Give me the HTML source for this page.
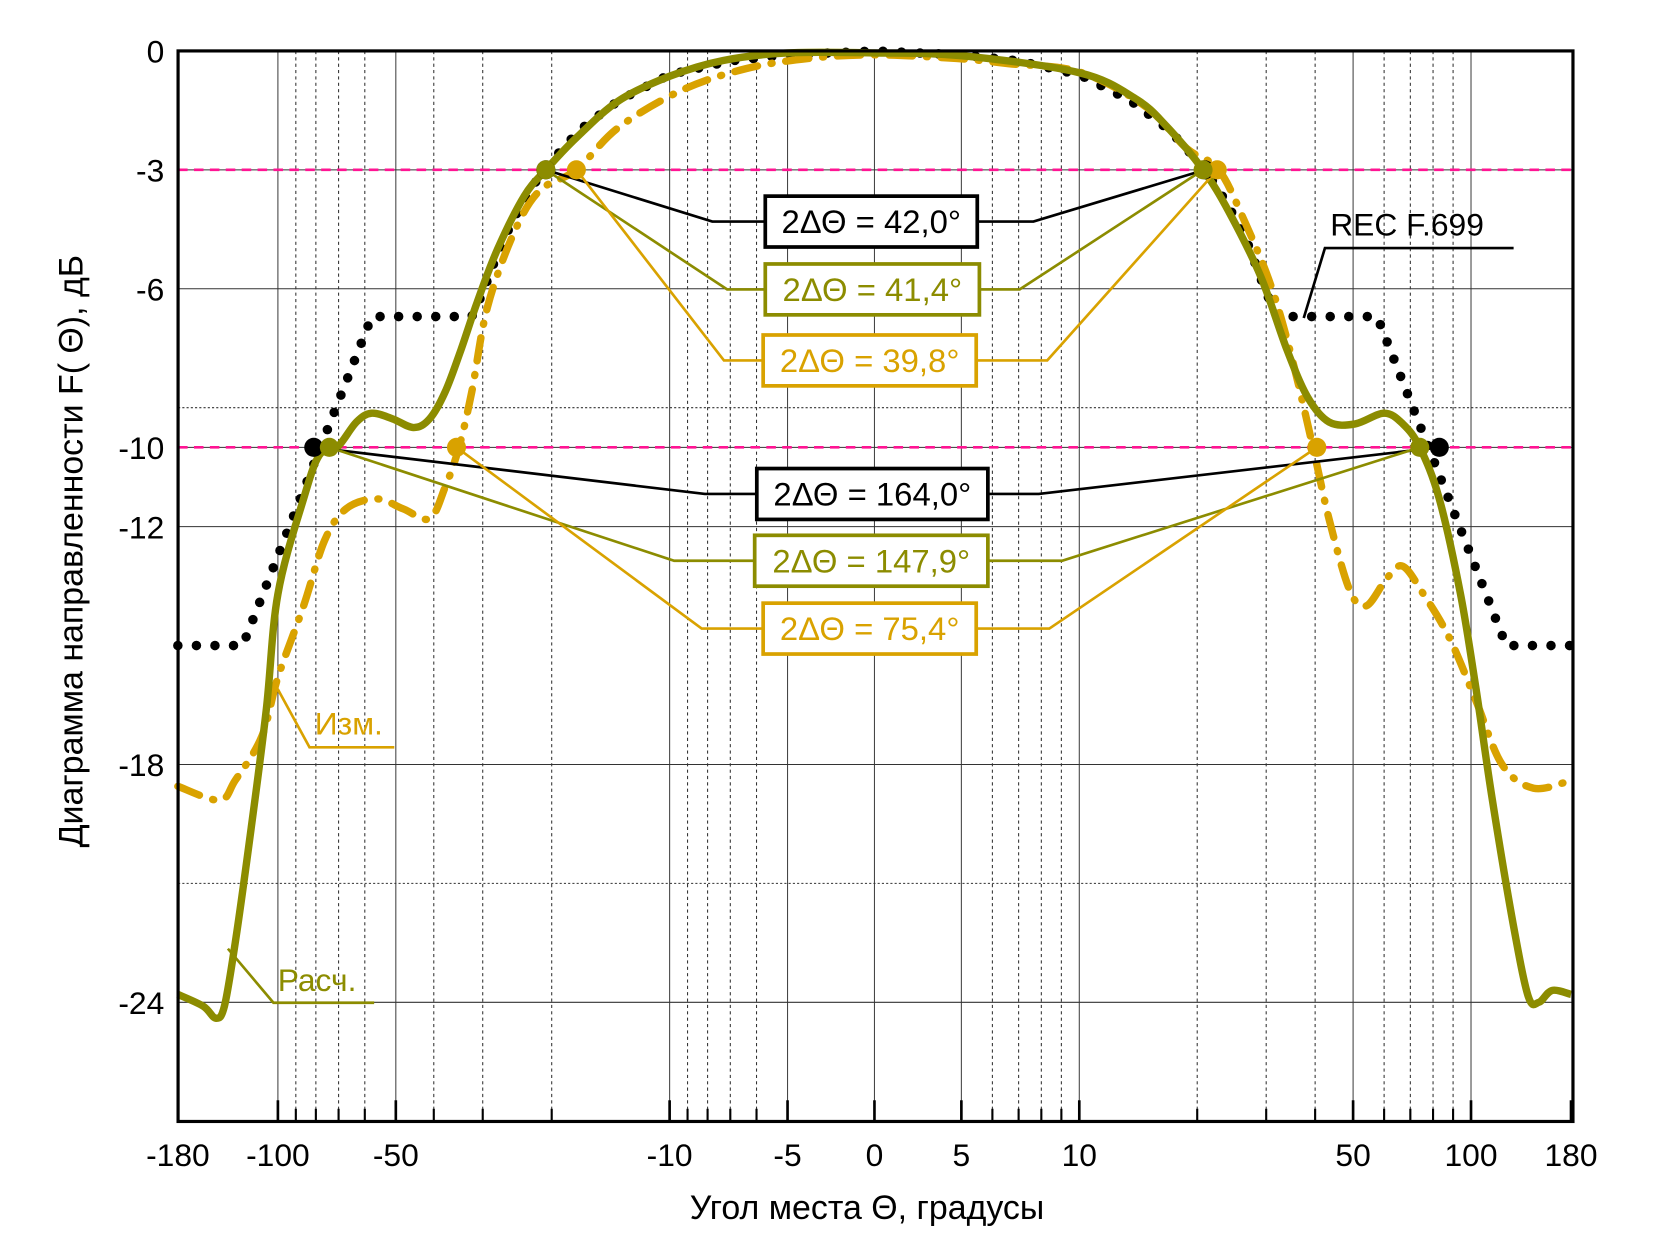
<!DOCTYPE html>
<html><head><meta charset="utf-8"><style>
html,body{margin:0;padding:0;background:#fff;}
svg{display:block;}
text{font-family:"Liberation Sans",sans-serif;}
</style></head><body>
<svg id="chart" width="1662" height="1245" viewBox="0 0 1568 1174.5" xmlns="http://www.w3.org/2000/svg">
<g id="grid"></g>
<g id="series"></g>
<g id="annot"></g>
<g id="axes"></g>
</svg>
<script>
// ---- data ----
const xTickLabels = [-180,-100,-50,-10,-5,0,5,10,50,100,180];
const xMinorTicks = [-90,-80,-70,-60,-40,-30,-20,-9,-8,-7,-6,6,7,8,9,20,30,40,60,70,80,90];
const yTickLabels = [0,-3,-6,-10,-12,-18,-24];
const yDottedGrid = [-9,-21];
const levelLines = [-3,-10];

const recTheta = [-180,-123,-57.6,-32,-30,-27,-24,-21,-17,-13.5,-10,-7,-5,0,5,7,10,13.5,17,21,24,27,30,32,57.6,123,180];
const recDb    = [-15,-15,-6.7,-6.7,-6.1,-4.9,-3.9,-3.0,-2.0,-1.25,-0.6,-0.25,-0.1,0,-0.1,-0.25,-0.6,-1.25,-2.0,-3.0,-3.9,-4.9,-6.1,-6.7,-6.7,-15,-15];

const calcTheta = [-180,-155,-144,-137,-128.5,-117,-107,-100,-86,-78.4,-70.6,-63,-57.6,-51,-45,-41,-37.4,-34.1,-31,-27.5,-23.5,-20.7,-17.3,-13.5,-10,-7.3,-5,0,5,10,13.9,16.7,20.7,24.1,29,33.9,38.3,43.4,50.6,60,67,74,83,94,103,113,128,140,149,161,180];
const calcDb    = [-23.8,-24.1,-24.4,-24.1,-22.5,-19.6,-16.6,-13.7,-11.3,-10.2,-10.0,-9.36,-9.14,-9.28,-9.5,-9.28,-8.6,-7.54,-6.34,-5.0,-3.66,-3.0,-2.19,-1.26,-0.64,-0.24,-0.05,-0.05,-0.12,-0.55,-1.2,-1.9,-3.0,-4.06,-5.67,-7.54,-8.74,-9.36,-9.41,-9.14,-9.41,-10.0,-11.3,-13.7,-16.1,-18.8,-22.0,-23.85,-24.0,-23.7,-23.8];

const measTheta = [-180,-141,-128.5,-110,-100,-86,-76,-67,-56,-47.9,-41,-37.4,-34.5,-32,-29.2,-25,-21.5,-17.3,-13.5,-9.3,-6.4,-3.8,0,4.7,6.6,10,14.7,18.8,22.7,26.5,30.9,35,39.5,43.4,49,54,61,67,75.6,88,103,120,144.5,180];
const measDb    = [-18.55,-18.9,-18.4,-17.3,-15.8,-14.0,-12.35,-11.55,-11.3,-11.55,-11.8,-11.0,-10.0,-8.6,-6.47,-4.6,-3.53,-3.0,-1.93,-0.99,-0.45,-0.19,-0.1,-0.19,-0.32,-0.53,-1.39,-2.46,-3.0,-4.33,-5.94,-7.8,-10.0,-11.8,-13.6,-14.0,-13.3,-13.0,-13.7,-14.8,-16.4,-18.0,-18.6,-18.4];

const recMarkTheta  = [-20.7,20.9,-81,83];
const recMarkDb     = [-3,-3,-10,-10];
const calcMarkTheta = [-20.7,20.7,-73.9,74];
const calcMarkDb    = [-3,-3,-10,-10];
const measMarkTheta = [-17.3,22.5,-35,40.4];
const measMarkDb    = [-3,-3,-10,-10];

const beamLabels = ["2ΔΘ = 42,0°","2ΔΘ = 41,4°","2ΔΘ = 39,8°","2ΔΘ = 164,0°","2ΔΘ = 147,9°","2ΔΘ = 75,4°"];

// ---- axes ----
const X0=168, X1=1484, Y0=48, Y1=1058;
function xs(t){const a=Math.abs(t);const s=t<0?-1:1;const d=a<=5?a/5*82:82+160.5*Math.log(a/5);return 825+s*d;}
function ys(db){return Y0-db*37.4;}
const NS="http://www.w3.org/2000/svg";
function mk(tag,parent,attrs){const e=document.createElementNS(NS,tag);for(const k in attrs)e.setAttribute(k,attrs[k]);parent.appendChild(e);return e;}
const grid=document.getElementById('grid'), series=document.getElementById('series'), annot=document.getElementById('annot'), axes=document.getElementById('axes');

xTickLabels.forEach(t=>{
  if(t===-180||t===180) return;
  const l=mk('line',grid,{x1:xs(t),x2:xs(t),y1:Y0,y2:Y1,stroke:'#444','stroke-width':1});
  
  
});
xMinorTicks.forEach(t=>{
  const l=mk('line',grid,{x1:xs(t),x2:xs(t),y1:Y0,y2:Y1,stroke:'#333','stroke-width':1,'stroke-dasharray':'3 3'});
  
  
  const k=mk('line',axes,{x1:xs(t),x2:xs(t),y1:Y1-12,y2:Y1,stroke:'#000','stroke-width':2});
  
  
});
yTickLabels.forEach(v=>{
  if(v===0) return;
  const l=mk('line',grid,{x1:X0,x2:X1,y1:ys(v),y2:ys(v),stroke:'#333','stroke-width':1});
  
  
});
yDottedGrid.forEach(v=>{
  const l=mk('line',grid,{x1:X0,x2:X1,y1:ys(v),y2:ys(v),stroke:'#333','stroke-width':1,'stroke-dasharray':'2 2'});
  
  
});
levelLines.forEach(v=>{
  const l=mk('line',grid,{x1:X0,x2:X1,y1:ys(v),y2:ys(v),stroke:'#ff1493','stroke-width':2.5,'stroke-dasharray':'9 6'});
  
  
});

function pathFrom(th,db){
  const p=th.map((t,i)=>[xs(t),ys(db[i])]);
  let d='M'+p[0][0].toFixed(1)+','+p[0][1].toFixed(1);
  for(let i=0;i<p.length-1;i++){
    const p0=p[i-1]||p[i],p1=p[i],p2=p[i+1],p3=p[i+2]||p2;
    const c1=[p1[0]+(p2[0]-p0[0])/6,p1[1]+(p2[1]-p0[1])/6];
    const c2=[p2[0]-(p3[0]-p1[0])/6,p2[1]-(p3[1]-p1[1])/6];
    d+='C'+c1[0].toFixed(1)+','+c1[1].toFixed(1)+' '+c2[0].toFixed(1)+','+c2[1].toFixed(1)+' '+p2[0].toFixed(1)+','+p2[1].toFixed(1);
  }
  return d;
}
function polyFrom(th,db){return 'M'+th.map((t,i)=>xs(t).toFixed(1)+','+ys(db[i]).toFixed(1)).join('L');}

const OLIVE='#8c8c00', GOLD='#d9a200';
const rec=mk('path',series,{d:polyFrom(recTheta,recDb),fill:'none',stroke:'#000','stroke-width':9,'stroke-linecap':'round','stroke-dasharray':'0 17.5'});


const meas=mk('path',series,{d:pathFrom(measTheta,measDb),fill:'none',stroke:GOLD,'stroke-width':7,'stroke-linecap':'round','stroke-dasharray':'22 13 1 13'});


const calc=mk('path',series,{d:pathFrom(calcTheta,calcDb),fill:'none',stroke:OLIVE,'stroke-width':7,'stroke-linejoin':'round'});



const boxes=[
 [722,185,200,48,'#000',672,975,'rec',0],
 [722,249,202,48,OLIVE,686,962,'calc',0],
 [720,316,201,48,GOLD,683,988,'meas',0],
 [714,442,218,48,'#000',665,980,'rec',2],
 [712,505,220,48,OLIVE,636,1002,'calc',2],
 [720,569,201,48,GOLD,662,990,'meas',2]
];
const sets={rec:[recMarkTheta,recMarkDb],calc:[calcMarkTheta,calcMarkDb],meas:[measMarkTheta,measMarkDb]};
boxes.forEach((b,i)=>{
  const [x,y,w,h,c,lk,rk,s,pi]=b; const cy=y+h/2;
  const [mt,md]=sets[s];
  const lx=xs(mt[pi]),ly=ys(md[pi]),rx=xs(mt[pi+1]),ry=ys(md[pi+1]);
  const pl=mk('polyline',annot,{points:`${lx},${ly} ${lk},${cy} ${x},${cy}`,fill:'none',stroke:c,'stroke-width':2.5});
  
  
  const pr=mk('polyline',annot,{points:`${x+w},${cy} ${rk},${cy} ${rx},${ry}`,fill:'none',stroke:c,'stroke-width':2.5});
  
  
});
[['rec','#000'],['meas',GOLD],['calc',OLIVE]].forEach(([s,c])=>{
  const [mt,md]=sets[s];
  mt.forEach((t,i)=>{
    const m=mk('circle',annot,{cx:xs(t),cy:ys(md[i]),r:9,fill:c});
    
    
  });
});
boxes.forEach((b,i)=>{
  const [x,y,w,h,c]=b;
  const r=mk('rect',annot,{x:x,y:y,width:w,height:h,fill:'#fff',stroke:c,'stroke-width':3.5});
  
  
  const t=mk('text',annot,{x:x+w/2,y:y+h/2+11,'text-anchor':'middle','font-size':31,fill:c});
  t.textContent=beamLabels[i];
  
  
});
function label(txt,x,y,c,pts,name){
  const pl=mk('polyline',annot,{points:pts,fill:'none',stroke:c,'stroke-width':2.5});
  
  
  const t=mk('text',annot,{x:x,y:y,'font-size':30,fill:c});
  t.textContent=txt;
  
  
}
label('REC F.699',1255,222,'#000','1230,300 1250,234 1428,234','rec-f699-label');
label('Изм.',297,693,GOLD,'262,650 292,705 372,705','measured-label');
label('Расч.',262,935,OLIVE,'215,895 258,946 353,946','calculated-label');

const fr=mk('rect',axes,{x:X0,y:Y0,width:X1-X0,height:Y1-Y0,fill:'none',stroke:'#000','stroke-width':3});


xTickLabels.forEach(t=>{
  const k=mk('line',axes,{x1:xs(t),x2:xs(t),y1:Y1-20,y2:Y1,stroke:'#000','stroke-width':2.5});
  
  
  const tx=mk('text',axes,{x:xs(t),y:1100,'text-anchor':'middle','font-size':30});
  tx.textContent=t;
  
  
});
yTickLabels.forEach(v=>{
  const tx=mk('text',axes,{x:155,y:ys(v)+11,'text-anchor':'end','font-size':30});
  tx.textContent=v;
  
  
});
const xt=mk('text',axes,{x:818,y:1150,'text-anchor':'middle','font-size':32});
xt.textContent='Угол места  Θ, градусы';


const yt=mk('text',axes,{x:0,y:0,'text-anchor':'middle','font-size':32,transform:'translate(78,520) rotate(-90)'});
yt.textContent='Диаграмма направленности F( Θ), дБ';


</script>
</body></html>
